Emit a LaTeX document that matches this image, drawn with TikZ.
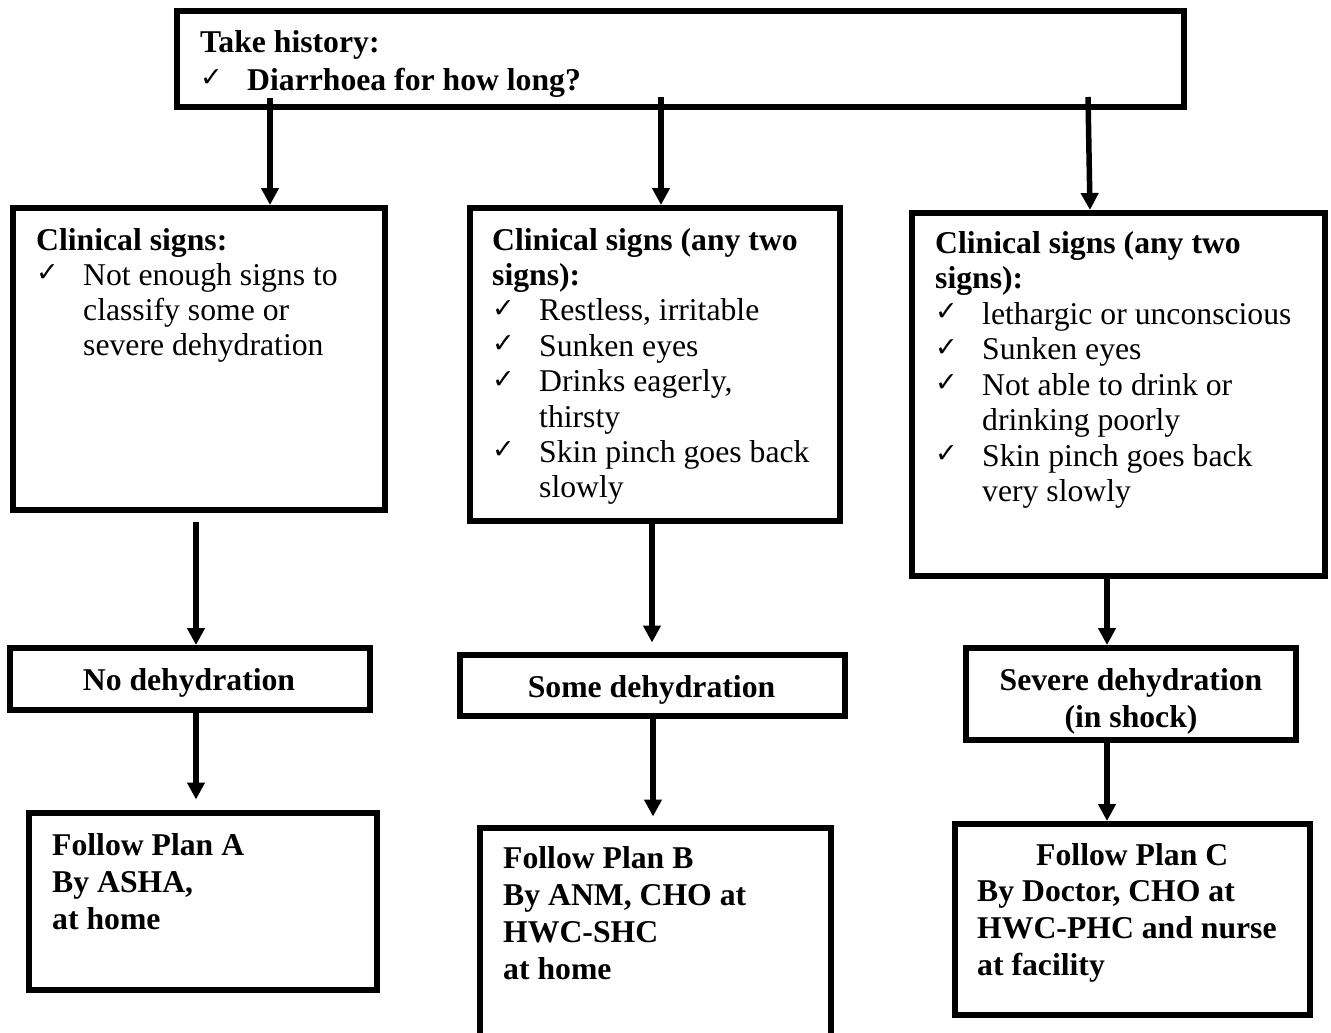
\documentclass[tikz,border=0pt]{standalone}
\usepackage{fontspec}
\setmainfont{Liberation Serif}
\newfontfamily\ckfont{DejaVu Sans}
\usetikzlibrary{arrows.meta}

% check-mark bullet with hanging indent
\newcommand\tick{\raisebox{3.5pt}{\ckfont\fontsize{27}{27}\selectfont\char"2713}}
\newcommand\ckitem[1]{\par\hangindent=47pt\hangafter=1\noindent\makebox[47pt][l]{\tick}#1}

\tikzset{
  box/.style={draw, line width=6pt, fill=white, inner sep=0pt},
  arr/.style={line width=5.5pt, -{Triangle[width=17pt,length=17pt]}},
  txt/.style={inner sep=0pt, anchor=base west, font=\fontsize{31.7}{35.5}\selectfont},
  ctxt/.style={inner sep=0pt, anchor=base, font=\fontsize{31.7}{35.5}\selectfont\bfseries},
}

\begin{document}
\begin{tikzpicture}[x=1pt, y=-1pt]
\useasboundingbox (0,0) rectangle (1331,1033);
\fill[white] (0,0) rectangle (1331,1033);
\clip (0,0) rectangle (1331,1033);

% boxes
\node[box, minimum width=1007pt, minimum height=95pt]    (top) at (680.5,59) {};
\node[box, minimum width=372pt,  minimum height=302pt]   (L1)  at (199,359) {};
\node[box, minimum width=370pt,  minimum height=312.5pt] (M1)  at (654.5,364.25) {};
\node[box, minimum width=413pt,  minimum height=363pt]   (R1)  at (1118.5,394.5) {};
\node[box, minimum width=359.5pt,minimum height=62pt]    (L2)  at (189.75,679) {};
\node[box, minimum width=384.5pt,minimum height=61pt]    (M2)  at (652.25,685) {};
\node[box, minimum width=329.5pt,minimum height=92pt]    (R2)  at (1130.75,694) {};
\node[box, minimum width=347.5pt,minimum height=177pt]   (L3)  at (202.75,901) {};
\node[box, minimum width=351pt,  minimum height=222.5pt] (M3)  at (655.5,938.75) {};
\node[box, minimum width=355pt,  minimum height=190.5pt] (R3)  at (1132,919.25) {};

% connectors
\coordinate (s1) at (270,98);
\coordinate (s2) at (661,97);
\coordinate (s3) at (1088,97);
\coordinate (e3) at (1090,0);
\coordinate (s4) at (196,522);
\coordinate (c6) at (652,0);
\coordinate (c7) at (653,0);
\coordinate (c8) at (1107,0);

\draw[arr] (s1) -- (s1 |- L1.north);
\draw[arr] (s2) -- (s2 |- M1.north);
\draw[arr] (s3) -- (R1.north -| e3);
\draw[arr] (s4) -- (s4 |- L2.north);
\draw[arr, shorten >=10pt] (L2.south -| s4) -- (L3.north -| s4);
\draw[arr, shorten >=9pt] (M1.south -| c6) -- (M2.north -| c6);
\draw[arr, shorten >=8pt] (M2.south -| c7) -- (M3.north -| c7);
\draw[arr] (R1.south -| c8) -- (R2.north -| c8);
\draw[arr] (R2.south -| c8) -- (R3.north -| c8);

% texts
\node[txt] (t0) at (200,53) {\parbox[t]{900pt}{\fontsize{31.7}{37}\selectfont\bfseries
  Take history:\ckitem{Diarrhoea for how long?}}};

\node[txt] (t1) at (36,250) {\parbox[t]{500pt}{\fontsize{31.7}{35}\selectfont
  \textbf{Clinical signs:}\ckitem{Not enough signs to\\classify some or\\severe dehydration}}};

\node[txt] (t2) at (492,250) {\parbox[t]{500pt}{\fontsize{31.7}{35.4}\selectfont
  \textbf{Clinical signs (any two\\signs):}%
  \ckitem{Restless, irritable}%
  \ckitem{Sunken eyes}%
  \ckitem{Drinks eagerly,\\thirsty}%
  \ckitem{Skin pinch goes back\\slowly}}};

\node[txt] (t3) at (935,253) {\parbox[t]{500pt}{\fontsize{31.7}{35.5}\selectfont
  \textbf{Clinical signs (any two\\signs):}%
  \ckitem{lethargic or unconscious}%
  \ckitem{Sunken eyes}%
  \ckitem{Not able to drink or\\drinking poorly}%
  \ckitem{Skin pinch goes back\\very slowly}}};

\node[ctxt] (t4) at (189,690) {No dehydration};
\node[ctxt] (t5) at (651.5,697) {Some dehydration};
\node[ctxt] (t6) at (1131,690) {\parbox[t]{330pt}{\centering\fontsize{31.7}{37}\selectfont\bfseries
  Severe dehydration\\(in shock)}};

\node[txt] (t7) at (52,855) {\parbox[t]{400pt}{\fontsize{31.7}{37}\selectfont\bfseries
  Follow Plan A\\By ASHA,\\at home}};
\node[txt] (t8) at (503,868) {\parbox[t]{400pt}{\fontsize{31.7}{37.3}\selectfont\bfseries
  Follow Plan B\\By ANM, CHO at\\HWC-SHC\\at home}};
\node[txt] (t9) at (977,865) {\parbox[t]{400pt}{\fontsize{31.7}{36.7}\selectfont\bfseries
  \makebox[310pt][c]{Follow Plan C}\\By Doctor, CHO at\\HWC-PHC and nurse\\at facility}};
\end{tikzpicture}
\end{document}
